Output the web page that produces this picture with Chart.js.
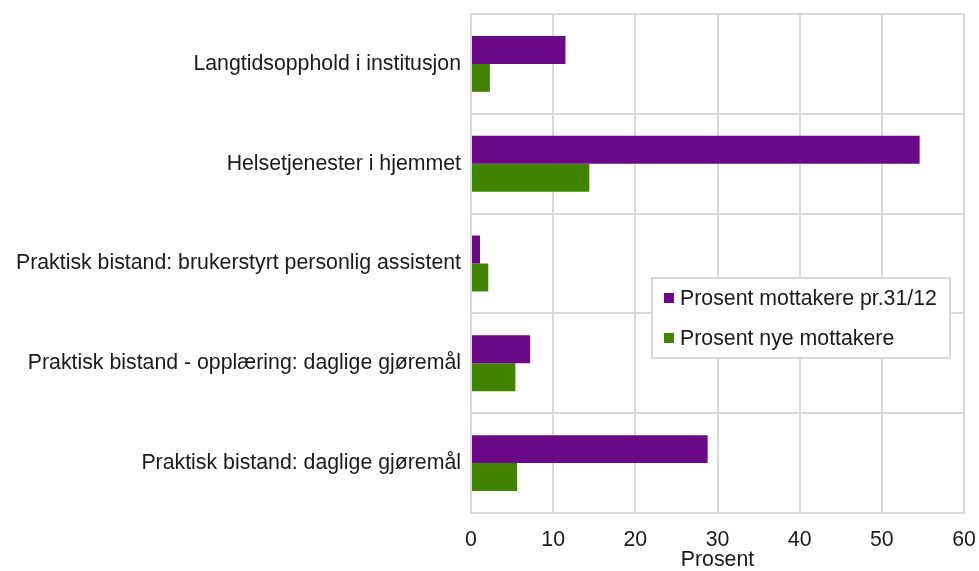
<!DOCTYPE html>
<html>
<head>
<meta charset="utf-8">
<script src="https://cdn.jsdelivr.net/npm/chart.js@4/dist/chart.umd.min.js"></script>
<style>
html,body{margin:0;padding:0;background:#fff;}
#wrap{width:979px;height:571px;position:relative;}
</style>
</head>
<body>
<div id="wrap"><canvas id="c" width="979" height="571"></canvas></div>
<script>
const categories = [
  "Langtidsopphold i institusjon",
  "Helsetjenester i hjemmet",
  "Praktisk bistand: brukerstyrt personlig assistent",
  "Praktisk bistand - opplæring: daglige gjøremål",
  "Praktisk bistand: daglige gjøremål"
];
const seriesNames = ["Prosent mottakere pr.31/12", "Prosent nye mottakere"];
const mottakere = [11.5, 54.6, 1.1, 7.2, 28.8];
const nyeMottakere = [2.3, 14.4, 2.1, 5.4, 5.6];
const xTicks = [0, 10, 20, 30, 40, 50, 60];
const axisTitle = "Prosent";

const FONT = "'Liberation Sans', Arial, sans-serif";
const FS = 21.3;
const TEXT = "#1a1a1a";
const GRID = "#d9d9d9";

const legendPlugin = {
  id: 'boxLegend',
  afterDraw(chart) {
    const ctx = chart.ctx;
    const x = 652, y = 278, w = 298, h = 80;
    ctx.save();
    ctx.fillStyle = '#fff';
    ctx.fillRect(x, y, w, h);
    ctx.strokeStyle = GRID;
    ctx.lineWidth = 2;
    ctx.strokeRect(x, y, w, h);
    ctx.font = FS + "px " + FONT;
    ctx.textBaseline = 'middle';
    ctx.textAlign = 'left';
    chart.data.datasets.forEach((ds, i) => {
      const cy = y + 20 + i * 40;
      ctx.fillStyle = ds.backgroundColor;
      ctx.fillRect(x + 12, cy - 5, 10, 10);
      ctx.fillStyle = TEXT;
      ctx.fillText(ds.label, x + 28, cy + 1);
    });
    ctx.restore();
  }
};

new Chart(document.getElementById('c'), {
  type: 'bar',
  data: {
    labels: categories,
    datasets: [
      { label: seriesNames[0], data: mottakere, backgroundColor: '#6a0888' },
      { label: seriesNames[1], data: nyeMottakere, backgroundColor: '#418400' }
    ]
  },
  options: {
    indexAxis: 'y',
    responsive: false,
    animation: false,
    devicePixelRatio: 1,
    layout: { padding: { top: 14, right: 15, left: 0, bottom: 0 } },
    datasets: { bar: { categoryPercentage: 0.56, barPercentage: 1.0 } },
    plugins: { legend: { display: false }, tooltip: { enabled: false } },
    scales: {
      x: {
        min: xTicks[0], max: xTicks[xTicks.length - 1],
        afterBuildTicks(scale) { scale.ticks = xTicks.map(v => ({ value: v })); },
        afterFit(scale) { scale.height = 58; scale.paddingLeft = 0; scale.paddingRight = 0; },
        grid: { color: GRID, lineWidth: 2, drawTicks: false },
        border: { color: GRID, width: 2 },
        ticks: { font: { family: FONT, size: FS }, color: TEXT, padding: 14 },
        title: { display: true, text: axisTitle, font: { family: FONT, size: FS, lineHeight: 1 }, color: TEXT, padding: { top: 0, bottom: 0 } }
      },
      y: {
        afterFit(scale) { scale.width = 471; scale.paddingTop = 0; scale.paddingBottom = 0; },
        grid: { color: GRID, lineWidth: 2, drawTicks: false, offset: true },
        border: { color: GRID, width: 2 },
        ticks: { font: { family: FONT, size: FS }, color: TEXT, padding: 10 }
      }
    }
  },
  plugins: [legendPlugin]
});
</script>
</body>
</html>
